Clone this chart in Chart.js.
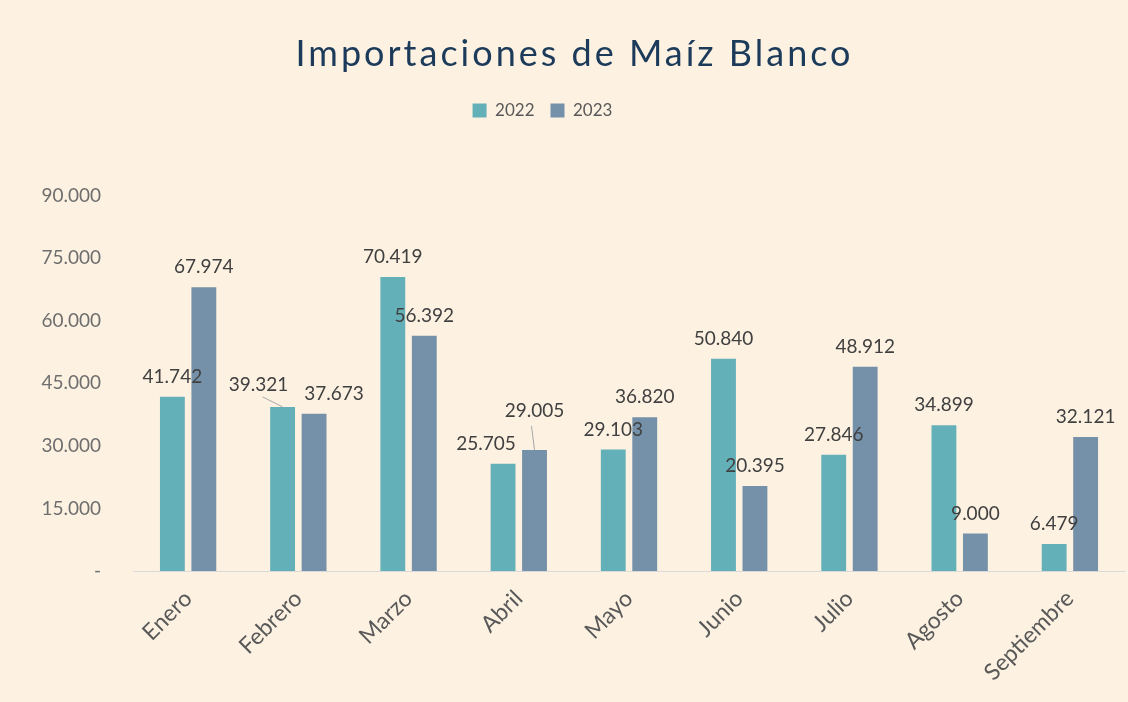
<!DOCTYPE html>
<html lang="es">
<head>
<meta charset="utf-8">
<title>Importaciones de Maíz Blanco</title>
<script src="https://cdn.jsdelivr.net/npm/chart.js@4.4.0/dist/chart.umd.min.js"></script>
<style>
  html, body { margin: 0; padding: 0; background: #FDF2E2; }
  #wrap { width: 1128px; height: 702px; }
  canvas { display: block; background: #FDF2E2; }
</style>
</head>
<body>
<div id="wrap"><canvas id="c" width="1128" height="702"></canvas></div>
<script>
// ---- data ----
const chartTitle = 'Importaciones de Maíz Blanco';
const categories = ['Enero', 'Febrero', 'Marzo', 'Abril', 'Mayo', 'Junio', 'Julio', 'Agosto', 'Septiembre'];
const seriesNames = ['2022', '2023'];
const values2022 = [41742, 39321, 70419, 25705, 29103, 50840, 27846, 34899, 6479];
const values2023 = [67974, 37673, 56392, 29005, 36820, 20395, 48912, 9000, 32121];
const yMin = 0;
const yMax = 90000;
const yStep = 15000;

// ---- styling ----
const FONT = 'Lato, "Open Sans", sans-serif';
const colors = ['#64B0B8', '#7591A9'];

function fmt(v) {
  if (v === 0) return '-';
  return String(Math.round(v)).replace(/\B(?=(\d{3})+(?!\d))/g, '.');
}

// label nudges (dataset index - category index): [dx, dy, leaderLine]
const labelNudges = {
  '0-1': [-24, -2, true],
  '1-1': [20, 0, false],
  '0-3': [-17, 0, false],
  '1-3': [0, -19, true]
};

const dataLabels = {
  id: 'dataLabels',
  afterDatasetsDraw(chart) {
    const ctx = chart.ctx;
    ctx.save();
    ctx.font = '19px ' + FONT;
    ctx.textAlign = 'center';
    ctx.textBaseline = 'middle';
    chart.data.datasets.forEach((ds, di) => {
      const meta = chart.getDatasetMeta(di);
      meta.data.forEach((bar, i) => {
        const n = labelNudges[di + '-' + i] || [0, 0, false];
        const lx = bar.x + n[0];
        const ly = bar.y - 20 + n[1];
        if (n[2]) {
          ctx.strokeStyle = '#A6A6A6';
          ctx.lineWidth = 1;
          ctx.beginPath();
          if (n[0] !== 0) {
            ctx.moveTo(lx + 4, ly + 12);
          } else {
            ctx.moveTo(lx - 3, ly + 15);
          }
          ctx.lineTo(bar.x, bar.y);
          ctx.stroke();
        }
        ctx.fillStyle = '#404040';
        ctx.fillText(fmt(ds.data[i]), lx, ly);
      });
    });
    ctx.restore();
  }
};

function patchDraw(box, shiftX, spacing) {
  const draw = box.draw;
  box.draw = function () {
    const ctx = this.ctx;
    ctx.save();
    ctx.translate(shiftX, 0);
    if (spacing) ctx.letterSpacing = spacing;
    draw.apply(this, arguments);
    ctx.restore();
  };
}

const layoutTweaks = {
  id: 'layoutTweaks',
  beforeLayout(chart) {
    const lg = chart.legend;
    if (lg && !lg._extraPatched) {
      const fit = lg.fit;
      lg.fit = function () { fit.apply(this, arguments); this.height += 66.5; };
      patchDraw(lg, -20, null);
      lg._extraPatched = true;
    }
    const tb = chart.titleBlock;
    if (tb && !tb._spacingPatched) {
      patchDraw(tb, 12, '3px');
      tb._spacingPatched = true;
    }
  }
};

new Chart(document.getElementById('c'), {
  type: 'bar',
  data: {
    labels: categories,
    datasets: [
      { label: seriesNames[0], data: values2022, backgroundColor: colors[0], borderWidth: 0 },
      { label: seriesNames[1], data: values2023, backgroundColor: colors[1], borderWidth: 0 }
    ]
  },
  options: {
    responsive: false,
    animation: false,
    layout: { padding: { left: 0, right: 3, top: 0, bottom: 0 } },
    categoryPercentage: 0.571,
    barPercentage: 0.79,
    plugins: {
      title: {
        display: true,
        text: chartTitle,
        color: '#1C3B5A',
        font: { family: FONT, size: 36, weight: 'normal', lineHeight: 1.2 },
        padding: { top: 32.4, bottom: 10.3 }
      },
      legend: {
        display: true,
        position: 'top',
        labels: {
          color: '#595959',
          font: { family: FONT, size: 17 },
          boxWidth: 14,
          boxHeight: 14,
          padding: 16
        }
      },
      tooltip: { enabled: false }
    },
    scales: {
      x: {
        grid: { display: false, drawTicks: false },
        border: { display: true, color: '#D9D9D9', width: 1 },
        ticks: {
          color: '#595959',
          font: { family: FONT, size: 23 },
          minRotation: 45,
          maxRotation: 45,
          autoSkip: false,
          padding: 14
        },
        afterFit(scale) { scale.height = 131; }
      },
      y: {
        min: yMin,
        max: yMax,
        grid: { display: false, drawTicks: false },
        border: { display: false },
        ticks: {
          stepSize: yStep,
          color: '#6E6E6E',
          font: { family: FONT, size: 19 },
          padding: 32,
          callback: (v) => fmt(v)
        },
        afterFit(scale) { scale.width = 133; }
      }
    }
  },
  plugins: [layoutTweaks, dataLabels]
});
</script>
</body>
</html>
